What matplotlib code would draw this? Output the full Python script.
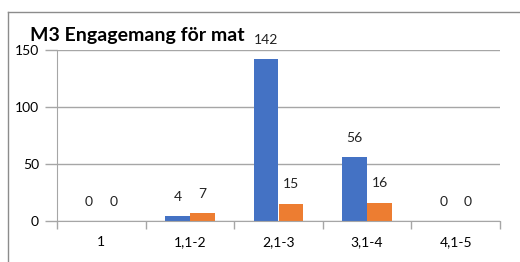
import matplotlib
matplotlib.use("Agg")
import matplotlib.pyplot as plt
from matplotlib.lines import Line2D
import numpy as np

plt.rcParams["font.family"] = ["Lato", "DejaVu Sans"]

categories = ["1", "1,1-2", "2,1-3", "3,1-4", "4,1-5"]
serie1 = [0, 4, 142, 56, 0]
serie2 = [0, 7, 15, 16, 0]

blue = "#4472C4"
orange = "#ED7D31"
grey = "#a6a6a6"

fig = plt.figure(figsize=(5.2, 2.62), dpi=100)
ax = fig.add_axes([57 / 520, 1 - 221 / 262, 443 / 520, 171 / 262])

x = np.arange(len(categories))
w = 0.28
b1 = ax.bar(x - w / 2, serie1, w, color=blue)
b2 = ax.bar(x + w / 2, serie2, w, color=orange)

for bars, vals in ((b1, serie1), (b2, serie2)):
    for bar, v in zip(bars, vals):
        ax.annotate(str(v), (bar.get_x() + bar.get_width() / 2, v),
                    xytext=(0, 14), textcoords="offset points",
                    ha="center", va="center", fontsize=10, color="#222222")

ax.set_xlim(-0.5, len(categories) - 0.5)
ax.set_ylim(0, 150)
ax.set_yticks([0, 50, 100, 150])
ax.grid(axis="y", color=grey, linewidth=1)
ax.set_axisbelow(True)

ax.set_xticks(x)
ax.set_xticklabels(categories)
ax.set_xticks(np.arange(len(categories) + 1) - 0.5, minor=True)
ax.tick_params(axis="x", which="major", length=0, pad=11, labelsize=10)
ax.tick_params(axis="x", which="minor", length=6, color=grey, width=1)
ax.tick_params(axis="y", length=9, color=grey, width=1, pad=4, labelsize=10)

for s in ("top", "right"):
    ax.spines[s].set_visible(False)
ax.spines["left"].set_color(grey)
ax.spines["bottom"].set_color(grey)

fig.text(30 / 520, 1 - 35 / 262, "M3 Engagemang för mat", fontsize=14,
         fontweight="bold", ha="left", va="center")

# outer chart border (cropped)
fig.add_artist(Line2D([8 / 520, 1], [1 - 12 / 262, 1 - 12 / 262], color="#8c8c8c", lw=1))
fig.add_artist(Line2D([8 / 520, 8 / 520], [0, 1 - 12 / 262], color="#8c8c8c", lw=1))

fig.savefig("out.png", dpi=100)
